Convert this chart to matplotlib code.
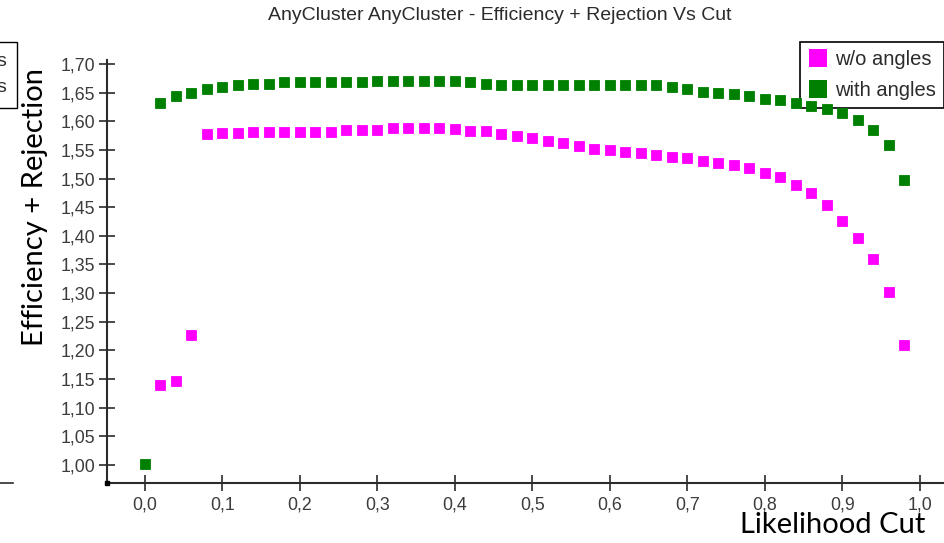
import matplotlib
matplotlib.use('Agg')
import matplotlib.pyplot as plt
from matplotlib.lines import Line2D
from matplotlib.patches import Rectangle
from matplotlib.ticker import FuncFormatter, MultipleLocator
import numpy as np

W, H = 945, 543

cut = [0.00, 0.02, 0.04, 0.06, 0.08, 0.10, 0.12, 0.14, 0.16, 0.18,
       0.20, 0.22, 0.24, 0.26, 0.28, 0.30, 0.32, 0.34, 0.36, 0.38,
       0.40, 0.42, 0.44, 0.46, 0.48, 0.50, 0.52, 0.54, 0.56, 0.58,
       0.60, 0.62, 0.64, 0.66, 0.68, 0.70, 0.72, 0.74, 0.76, 0.78,
       0.80, 0.82, 0.84, 0.86, 0.88, 0.90, 0.92, 0.94, 0.96, 0.98]

# no point at cut 0.0 for the w/o angles series
wo_angles = [np.nan, 1.139, 1.147, 1.227, 1.577, 1.580, 1.580, 1.582, 1.582, 1.582,
             1.582, 1.582, 1.582, 1.585, 1.585, 1.585, 1.588, 1.588, 1.588, 1.588,
             1.586, 1.583, 1.583, 1.578, 1.575, 1.570, 1.565, 1.562, 1.557, 1.552,
             1.549, 1.547, 1.544, 1.541, 1.538, 1.536, 1.531, 1.528, 1.523, 1.518,
             1.510, 1.502, 1.489, 1.474, 1.453, 1.426, 1.396, 1.360, 1.302, 1.210]

with_angles = [1.002, 1.632, 1.645, 1.650, 1.657, 1.660, 1.663, 1.665, 1.665, 1.668,
               1.668, 1.668, 1.668, 1.668, 1.668, 1.670, 1.670, 1.670, 1.670, 1.670,
               1.670, 1.668, 1.665, 1.663, 1.663, 1.663, 1.663, 1.663, 1.663, 1.663,
               1.663, 1.663, 1.663, 1.663, 1.660, 1.657, 1.652, 1.650, 1.648, 1.645,
               1.639, 1.637, 1.632, 1.627, 1.621, 1.614, 1.603, 1.585, 1.559, 1.497]

series_names = ['w/o angles', 'with angles']
series_colors = ['#ff00ff', '#008000']

title = 'AnyCluster AnyCluster - Efficiency + Rejection Vs Cut'
ylabel = 'Efficiency + Rejection'
xlabel = 'Likelihood Cut'

plt.rcParams['font.family'] = ['Liberation Sans', 'DejaVu Sans']

fig = plt.figure(figsize=(W / 100, H / 100), dpi=100)
fig.patch.set_facecolor('white')


def fx(px):
    return px / W


def fy(py):
    return 1 - py / H


ax = fig.add_axes([fx(107.3), fy(482.7), 1 - fx(107.3), fy(60) - fy(482.7)])
ax.set_xlim(-0.0486, 1.0323)
ax.set_ylim(0.969, 1.707)

# points sit above the legend box, as in the original
for vals, color in zip([wo_angles, with_angles], series_colors):
    ax.plot(cut, vals, linestyle='none', marker='s', markersize=7.2,
            color=color, markeredgewidth=0.6, markeredgecolor=color,
            clip_on=False, zorder=6)

for side in ['top', 'right']:
    ax.spines[side].set_visible(False)
for side in ['left', 'bottom']:
    ax.spines[side].set_color('#2b2b2b')
    ax.spines[side].set_linewidth(1.5)

ax.xaxis.set_major_locator(MultipleLocator(0.1))
ax.yaxis.set_major_locator(MultipleLocator(0.05))
ax.xaxis.set_major_formatter(FuncFormatter(lambda v, p: f'{v:.1f}'.replace('.', ',')))
ax.yaxis.set_major_formatter(FuncFormatter(lambda v, p: f'{v:.2f}'.replace('.', ',')))
ax.set_xticks([t for t in np.round(ax.get_xticks(), 2) if 0 <= t <= 1.0])
ax.set_yticks([t for t in np.round(ax.get_yticks(), 2) if 1.0 <= t <= 1.7])
ax.tick_params(axis='both', direction='inout', length=11.5, width=1.2,
               color='#2b2b2b', labelcolor='#3c3c3c', labelsize=12.8)
ax.tick_params(axis='y', pad=3)
ax.tick_params(axis='x', pad=4)

# small corner mark at the axes origin
ax.plot([0], [0], marker='s', markersize=3.5, color='black',
        transform=ax.transAxes, clip_on=False, zorder=4)

handles = [Line2D([], [], linestyle='none', marker='s', markersize=13.5,
                  color=c, markeredgewidth=0) for c in series_colors]
leg = ax.legend(handles, series_names, loc='upper right',
                bbox_to_anchor=(fx(944), fy(41.7)), bbox_transform=fig.transFigure,
                fancybox=False, framealpha=1, edgecolor='black',
                fontsize=14.5, borderpad=0.4, handlelength=1.0,
                handletextpad=0.35, labelspacing=0.6, borderaxespad=0)
leg.get_frame().set_linewidth(1.2)
leg.set_zorder(5)
for t in leg.get_texts():
    t.set_color('#2b2b2b')

fig.text(fx(500), fy(15), title, ha='center', va='center',
         fontsize=14, color='#2b2b2b')
fig.text(fx(35), fy(207), ylabel, ha='center', va='center', rotation=90,
         fontsize=21, family=['Lato', 'DejaVu Sans'], color='black')
fig.text(fx(833), fy(525), xlabel, ha='center', va='center',
         fontsize=21, family=['Lato', 'DejaVu Sans'], color='black')

# fragment of a neighbouring legend and axis cut by the page edge
fig.patches.append(Rectangle((fx(-2), fy(108)), fx(18.7), fy(41.7) - fy(108),
                             transform=fig.transFigure, fill=False,
                             edgecolor='black', linewidth=1.0))
fig.text(fx(6), fy(62), 's', ha='right', va='center', fontsize=14, color='#2b2b2b')
fig.text(fx(6), fy(88), 's', ha='right', va='center', fontsize=14, color='#2b2b2b')
fig.lines.append(Line2D([0, fx(13)], [fy(483), fy(483)], transform=fig.transFigure,
                        color='#2b2b2b', linewidth=1.2))

fig.savefig('out.png', dpi=100)
